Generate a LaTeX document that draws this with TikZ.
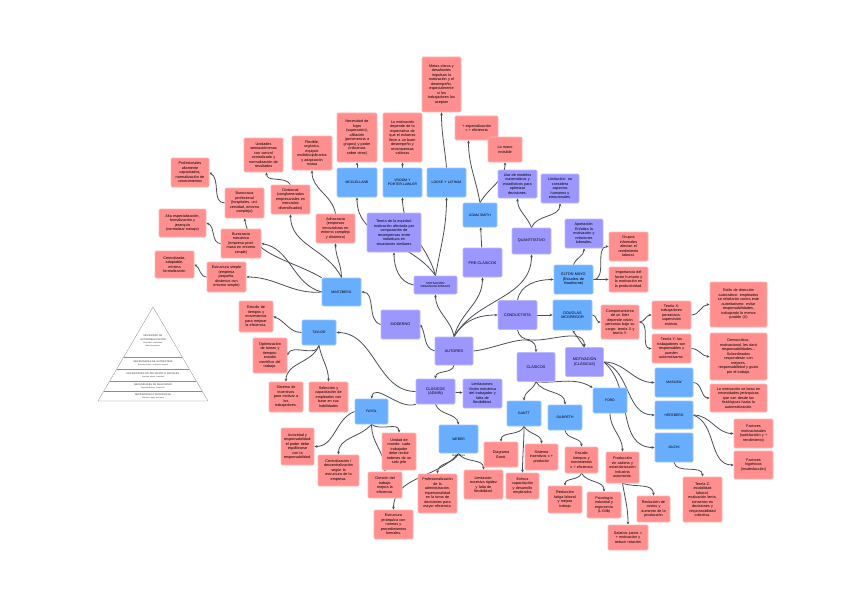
\documentclass[tikz,border=0pt]{standalone}
\usepackage{fontspec}
\setmainfont{Liberation Sans}
\usetikzlibrary{positioning,arrows.meta,backgrounds}
\definecolor{notered}{HTML}{FF8F8F}
\definecolor{noteredline}{HTML}{FFB4B4}
\definecolor{authblue}{HTML}{69ADFF}
\definecolor{authblueline}{HTML}{9CC8FF}
\definecolor{schoolpurple}{HTML}{9C97FF}
\definecolor{schoolline}{HTML}{BDB9FF}
\definecolor{linkgray}{HTML}{4A4F57}

\begin{document}
\begin{tikzpicture}[x=1pt,y=1pt,
  box/.style={rounded corners=1.2pt, line width=0.6pt, align=center, inner xsep=1.5pt, inner ysep=1pt, text width=36pt, minimum height=29pt, font=\fontsize{3.75}{4.5}\selectfont},
  redbox/.style={box, draw=noteredline, fill=notered},
  bluebox/.style={box, draw=authblueline, fill=authblue, font=\fontsize{3.4}{4.2}\selectfont},
  purplebox/.style={box, draw=schoolline, fill=schoolpurple},
  arrow/.style={-{Stealth[length=3pt,width=2.6pt]}, draw=linkgray, line width=0.8pt},
  twoway/.style={arrow, {Stealth[length=3pt,width=2.6pt]}-{Stealth[length=3pt,width=2.6pt]}},
  pyrtext/.style={inner sep=0pt, align=center, text=black!75, font=\fontsize{2.5}{2.9}\selectfont}]
\useasboundingbox (0,0) rectangle (848,-599);

% ramas principales
\node[purplebox, text width=35pt, minimum height=28pt] (autores) at (454,-351) {AUTORES};
\node[purplebox] (moderno) at (400.5,-324.5) {MODERNO};
\node[purplebox, minimum height=25pt] (clasadmin) at (435.5,-391.5) {CLÁSICOS\\(ADMIN)};
\node[purplebox, text width=35pt] (clasicos) at (536,-367) {CLÁSICOS};
\node[purplebox] (limitaciones) at (482.5,-393.5) {Limitaciones:\\Visión mecánica\\del trabajador y\\falta de\\flexibilidad.};
\node[purplebox, text width=35pt] (motclas) at (584.5,-362) {MOTIVACIÓN\\(CLÁSICAS)};
\node[purplebox, minimum height=29pt] (conductista) at (517.5,-315) {CONDUCTISTA};
\node[purplebox, minimum height=26pt] (quant) at (531.5,-241) {QUANTITATIVO};
\node[purplebox] (precl) at (482.5,-262.5) {PRE-CLÁSICOS};
\node[purplebox, text width=40pt, minimum height=18pt, font=\fontsize{2.9}{3.5}\selectfont] (motorg) at (435.5,-285) {MOTIVACIÓN\\ORGANIZACIONALES};
\node[purplebox, text width=51pt, minimum height=39pt] (equidad) at (394,-232.5) {Teoría de la equidad:\\motivación afectada por\\comparación de\\recompensas entre\\individuos en\\situaciones similares};
\node[purplebox, minimum height=28pt] (usemod) at (517.5,-184) {Use de modelos\\matemáticos y\\estadísticos para\\optimizar\\decisiones.};
\node[purplebox, text width=35pt] (limquant) at (560,-188.5) {Limitación: no\\considera\\aspectos\\humanos y\\emocionales.};
\node[purplebox, text width=35pt] (aportacion) at (584,-233.5) {Aportación:\\Enfatiza la\\motivación y\\relaciones\\laborales.};

% autores
\node[bluebox, minimum height=28pt] (mintzberg) at (341.5,-292) {MINTZBERG};
\node[bluebox, text width=31pt, minimum height=25pt] (taylor) at (319,-332.5) {TAYLOR};
\node[bluebox, text width=30pt, minimum height=25pt] (fayol) at (371.5,-411.5) {FAYOL};
\node[bluebox, minimum height=28pt] (weber) at (458.5,-439) {WEBER};
\node[inner sep=0.5pt, font=\fontsize{2.6}{3}\selectfont] (weberlbl) [below=0.6pt of weber] {Burocracia};
\node[bluebox, text width=31pt, minimum height=25pt] (gantt) at (524,-413.5) {GANTT};
\node[bluebox, text width=31pt, minimum height=25pt] (gilbreth) at (565,-417.5) {GILBRETH};
\node[bluebox, text width=31pt, minimum height=25pt] (ford) at (610,-400.5) {FORD};
\node[bluebox, text width=35pt] (maslow) at (674,-382.5) {MASLOW};
\node[bluebox, text width=35pt, minimum height=28pt] (herzberg) at (674,-415) {HERZBERG};
\node[bluebox, text width=35pt] (ouchi) at (674,-447.5) {OUCHI};
\node[bluebox, text width=37pt] (mcclelland) at (357,-182.5) {MCCLELLAND};
\node[bluebox] (vroom) at (402.5,-182.5) {VROOM Y\\PORTER-LAWLER};
\node[bluebox] (locke) at (446.5,-182.5) {LOCKE Y LATHAM};
\node[bluebox, text width=31pt, minimum height=24pt] (adamsmith) at (480,-215) {ADAM SMITH};
\node[bluebox, font=\fontsize{3.75}{4.5}\selectfont] (eltonmayo) at (573.5,-279.5) {ELTON MAYO\\(Estudios de\\Hawthorne)};
\node[bluebox, minimum height=30pt, font=\fontsize{3.75}{4.5}\selectfont] (douglas) at (572.5,-315) {DOUGLAS\\MCGREGOR};

% notas
\node[redbox, minimum height=55pt] (metas) at (441.5,-84.5) {Metas claras y\\desafiantes\\impulsan la\\motivación y el\\desempeño,\\especialmente\\si los\\trabajadores las\\aceptan};
\node[redbox, minimum height=49pt] (vroomtxt) at (402.5,-137.5) {La motivación\\depende de la\\expectativa de\\que el esfuerzo\\lleve a un buen\\desempeño y\\recompensas\\valiosas};
\node[redbox, text width=37pt, minimum height=49pt] (mccltxt) at (357,-137.5) {Necesidad de\\logro\\(superación),\\afiliación\\(pertenencia a\\grupos) y poder\\(influencia\\sobre otros)};
\node[redbox, text width=40pt, minimum height=24pt] (espec) at (476.5,-128) {+ especialización\\= + eficiencia};
\node[redbox, text width=31pt, minimum height=25pt] (mano) at (505,-149.5) {La mano\\invisible};
\node[redbox, minimum height=34pt] (unidades) at (263.5,-155) {Unidades\\semiautónomas\\con control\\centralizado y\\normalización de\\resultados};
\node[redbox, text width=37pt, minimum height=34pt] (flexible) at (312,-153) {Flexible,\\orgánica,\\equipos\\multidisciplinarios\\y adaptación\\mutua};
\node[redbox] (divisional) at (290.5,-199.5) {Divisional\\(conglomerados\\empresariales en\\mercados\\diversificados)};
\node[redbox] (adhocracia) at (335.5,-228.5) {Adhocracia\\(empresas\\innovadoras en\\entorno complejo\\y dinámico)};
\node[redbox, minimum height=30pt] (burprof) at (244.5,-203) {Burocracia\\profesional\\(hospitales, uni-\\versidad, entorno\\complejo)};
\node[redbox, text width=35pt] (profesionales) at (190,-172.5) {Profesionales\\altamente\\capacitados,\\normalización de\\conocimientos};
\node[redbox, text width=44pt, minimum height=28pt] (altaesp) at (182.5,-223) {Alta especialización,\\formalización y\\jerarquía\\(normalizar trabajo)};
\node[redbox, text width=37pt] (burmec) at (241,-243.5) {Burocracia\\mecánica\\(empresa prod.\\masa en entorno\\simple)};
\node[redbox, minimum height=27pt] (centralizada) at (174.5,-264.5) {Centralizada,\\adaptable,\\mínima\\formalización};
\node[redbox, minimum height=30pt] (estsimple) at (226.5,-277) {Estructura simple\\(empresa\\pequeña,\\dinámico con\\entorno simple)};
\node[redbox, text width=31pt, minimum height=31pt] (estudio) at (256,-316.5) {Estudio de\\tiempos y\\movimientos\\para mejorar\\la eficiencia.};
\node[redbox, text width=31pt, minimum height=35pt] (optimizacion) at (270,-355.5) {Optimización\\de tareas y\\tiempos:\\estudio\\científico del\\trabajo.};
\node[redbox, text width=31pt, minimum height=30pt] (sistema) at (286,-397) {Sistema de\\incentivos\\para motivar a\\los\\trabajadores.};
\node[redbox, minimum height=30pt] (seleccion) at (328.5,-397) {Selección y\\capacitación de\\empleados con\\base en sus\\habilidades};
\node[redbox, text width=30pt, minimum height=37pt] (autoridad) at (297.5,-446.5) {Autoridad y\\responsabilidad:\\el poder debe\\equilibrarse\\con la\\responsabilidad.};
\node[redbox, text width=38pt, minimum height=31pt] (centralizacion) at (338.5,-470.5) {Centralización /\\descentralización\\según la\\estructura de la\\empresa.};
\node[redbox, text width=31pt, minimum height=37pt] (unidadmando) at (399,-451.5) {Unidad de\\mando: cada\\trabajador\\debe recibir\\órdenes de un\\solo jefe};
\node[redbox, text width=31pt, minimum height=26pt] (division) at (385,-485) {División del\\trabajo:\\mejora la\\eficiencia.};
\node[redbox, minimum height=39pt] (profesionalizacion) at (437.5,-493.5) {Profesionalización\\de la\\administración,\\impersonalidad\\en la toma de\\decisiones para\\mayor eficiencia.};
\node[redbox] (estjerarquica) at (393.5,-524.5) {Estructura\\jerárquica con\\normas y\\procedimientos\\formales.};
\node[redbox] (limweber) at (483.5,-484.5) {Limitación:\\excesiva rigidez\\y falta de\\flexibilidad.};
\node[redbox, text width=31pt, minimum height=25pt] (diagrama) at (501,-454.5) {Diagrama\\Gantt.};
\node[redbox, text width=30pt, minimum height=26pt] (enfoca) at (522.5,-486) {Enfoca\\capacitación\\y desarrollo\\empleados};
\node[redbox, text width=30pt, minimum height=26pt] (sistinc) at (541.5,-457) {Sistema\\incentivos x +\\productiv.};
\node[redbox, text width=30pt, minimum height=26pt] (esttiempos) at (581.5,-460) {Estudio\\tiempos y\\movimientos\\x + eficiencia};
\node[redbox, text width=31pt, minimum height=27pt] (fatiga) at (565,-499.5) {Reducción\\fatiga laboral\\y mejora\\trabajo};
\node[redbox, text width=31pt, minimum height=26pt] (psicologia) at (604,-505) {Psicología\\industrial y\\ergonomía\\(L.Gilb)};
\node[redbox, text width=30pt, minimum height=31pt] (produccion) at (622.5,-467.5) {Producción\\en cadena y\\estandarización\\Industria\\automotriz.};
\node[redbox, text width=30pt, minimum height=26pt] (costos) at (653.5,-509) {Reducción de\\costos y\\aumento de la\\producción};
\node[redbox, text width=37pt, minimum height=25pt] (salarios) at (628,-537.5) {Salarios justos =\\+ motivación y\\reducir rotación};
\node[redbox, text width=54pt, minimum height=28pt] (maslowtxt) at (738.5,-398) {La motivación se basa en\\necesidades jerárquicas\\que van desde las\\fisiológicas hasta la\\autorrealización.};
\node[redbox] (factmot) at (753.5,-433.5) {Factores\\motivacionales\\(satisfacción y +\\rendimiento)};
\node[redbox, minimum height=28pt] (facthig) at (753.5,-465) {Factores\\higiénicos\\(insatisfacción)};
\node[redbox, minimum height=45pt] (teoriaz) at (702.5,-499.5) {Teoría Z:\\estabilidad\\laboral,\\evaluación lenta,\\consenso en\\decisiones y\\responsabilidad\\colectiva.};
\node[redbox] (grupos) at (628.5,-246.5) {Grupos\\informales\\afectan el\\rendimiento\\laboral.};
\node[redbox, minimum height=25pt] (importancia) at (628.5,-279.5) {Importancia del\\factor humano y\\la motivación en\\la productividad.};
\node[redbox, text width=35pt, minimum height=34pt] (comportamiento) at (620,-322) {Comportamiento\\de un líder\\depende visión\\personas bajo su\\cargo: teoría X y\\teoría Y.};
\node[redbox, minimum height=28pt] (teoriax) at (671.5,-315) {Teoría X:\\trabajadores\\perezosos:\\supervisión\\estricta.};
\node[redbox] (teoriay) at (671.5,-348.5) {Teoría Y: los\\trabajadores son\\responsables y\\pueden\\automotivarse.};
\node[redbox, text width=54pt, minimum height=45pt] (autocratico) at (738.5,-304.5) {Estilo de dirección\\autocrático: empleados\\se rebelarán contra este\\autoritarismo: evitar\\responsabilidades,\\trabajando lo menos\\posible (X)};
\node[redbox, text width=54pt, minimum height=47pt] (democratico) at (738.5,-356.5) {Democrático,\\motivacional, les dará\\responsabilidades...\\Subordinados\\responderán con\\mejores,\\responsabilidad y gusto\\por el trabajo.};

% piramide de Maslow
\draw[black!45, line width=0.3pt] (153,-307) -- (98,-401) -- (208,-401) -- cycle;
\draw[black!45, line width=0.3pt] (123.7,-357) -- (182.3,-357);
\draw[black!45, line width=0.3pt] (116.7,-369) -- (189.3,-369);
\draw[black!45, line width=0.3pt] (109.7,-381) -- (196.3,-381);
\draw[black!45, line width=0.3pt] (103.9,-391) -- (202.1,-391);
\node[pyrtext] (pyr1) at (153,-341) {NECESIDAD DE\\[0.8pt]AUTORREALIZACIÓN\\{\fontsize{1.9}{2.3}\selectfont Moralidad, creatividad,}\\{\fontsize{1.9}{2.3}\selectfont falta de prejuicios}};
\node[pyrtext] (pyr2) at (153,-363.2) {NECESIDADES DE AUTOESTIMA\\{\fontsize{1.9}{2.3}\selectfont Reconocimiento, confianza, respeto}};
\node[pyrtext] (pyr3) at (153,-375.2) {NECESIDADES DE AFILIACIÓN O SOCIALES\\{\fontsize{1.9}{2.3}\selectfont Amistad, afecto, intimidad}};
\node[pyrtext] (pyr4) at (153,-386.2) {NECESIDADES DE SEGURIDAD\\{\fontsize{1.9}{2.3}\selectfont Seguridad física, Protección}};
\node[pyrtext] (pyr5) at (153,-396.2) {NECESIDADES FISIOLÓGICAS\\{\fontsize{1.9}{2.3}\selectfont Alimento, agua, descanso}};

\begin{scope}[on background layer]
\fill[white] (0,0) rectangle (848,-599);
% Mintzberg
\draw[arrow] (moderno.west) to[out=165,in=0] (mintzberg.east);
\draw[arrow] (mintzberg.west) to[out=185,in=0] (estsimple.east);
\draw[arrow] (mintzberg.west) to[out=165,in=-10] (burmec.east);
\draw[arrow] (mintzberg.north west) to[out=150,in=-80] (burprof.south);
\draw[arrow] (mintzberg.north) to[out=115,in=-90] (divisional.south);
\draw[arrow] (mintzberg.north) to[out=90,in=-90] (adhocracia.south);
\draw[arrow] (burprof.west) to[out=180,in=-30] (profesionales.east);
\draw[arrow] (burmec.west) to[out=180,in=-20] (altaesp.east);
\draw[arrow] (estsimple.west) to[out=180,in=-30] (centralizada.east);
\draw[arrow] (divisional.north) to[out=120,in=-90] ([xshift=3pt]unidades.south);
\draw[arrow] (adhocracia.north) to[out=100,in=-90] (flexible.south);
% Autores
\draw[arrow] (autores.west) to[out=165,in=-60] (moderno.east);
\draw[arrow] (autores.north) to[out=100,in=-90] (motorg.south);
\draw[arrow] (autores.north) to[out=75,in=-90] (precl.south);
\draw[arrow] (autores.north) to[out=60,in=-90] (quant.south);
\draw[arrow] (autores.north) to[out=60,in=180] (conductista.west);
\draw[arrow] (autores.south) to[out=-100,in=90] (clasadmin.north);
\draw[arrow] (autores.east) to[out=5,in=90] (clasicos.north);
% Motivación organizacional
\draw[arrow] (motorg.west) to[out=170,in=-90] (equidad.south);
\draw[arrow] (motorg.north) to[out=125,in=-90] (mcclelland.south);
\draw[arrow] (motorg.north) to[out=105,in=-90] (vroom.south);
\draw[arrow] (motorg.north) to[out=80,in=-90] (locke.south);
\draw[arrow] (mcclelland) -- (mccltxt);
\draw[arrow] (vroom) -- (vroomtxt);
\draw[arrow] (locke.north) to[out=95,in=-90] (metas.south);
\draw[arrow] (precl) -- (adamsmith);
\draw[arrow] (adamsmith.north) to[out=100,in=-90] ([xshift=-8pt]espec.south);
\draw[arrow] (adamsmith.north) to[out=60,in=-90] (mano.south);
\draw[arrow] (quant.north) to[out=110,in=-90] (usemod.south);
\draw[arrow] (quant.north) to[out=70,in=-90] (limquant.south);
% Conductista
\draw[arrow] (conductista.north) to[out=80,in=180] (eltonmayo.west);
\draw[arrow] (conductista) -- (douglas);
\draw[arrow] (conductista.south) to[out=-80,in=90] (motclas.north);
\draw[twoway] (douglas.south) -- (motclas.north);
\draw[arrow] (eltonmayo.north) to[out=70,in=-90] (aportacion.south);
\draw[arrow] (eltonmayo.east) to[out=0,in=180] (grupos.west);
\draw[arrow] (eltonmayo) -- (importancia);
\draw[arrow] (douglas.east) to[out=0,in=180] (comportamiento.west);
\draw[arrow] (comportamiento.east) to[out=0,in=180] (teoriax.west);
\draw[arrow] (comportamiento.east) to[out=0,in=180] (teoriay.west);
\draw[arrow] (teoriax.east) to[out=0,in=180] (autocratico.west);
\draw[arrow] (teoriay.east) to[out=0,in=180] (democratico.west);
% Clásicos (admin)
\draw[arrow] (clasadmin.west) to[out=180,in=0] (taylor.east);
\draw[arrow] (clasadmin.south west) to[out=200,in=80] (fayol.north);
\draw[arrow] (clasadmin.south) to[out=-70,in=100] (weber.north);
\draw[arrow] (clasadmin) -- (limitaciones);
\draw[arrow] (taylor.west) to[out=180,in=-20] (estudio.east);
\draw[arrow] (taylor.south) to[out=-100,in=70] (optimizacion.east);
\draw[arrow] (taylor.south) to[out=-110,in=90] (sistema.north);
\draw[arrow] (taylor.south) to[out=-80,in=90] (seleccion.north);
\draw[arrow] (fayol.west) to[out=200,in=0] (autoridad.east);
\draw[arrow] (fayol.south) to[out=-130,in=90] (centralizacion.north);
\draw[arrow] (fayol.south) to[out=-90,in=90] (division.north);
\draw[arrow] (fayol.south) to[out=-40,in=90] (unidadmando.north);
\draw[arrow] (weber.south) to[out=-110,in=90] (profesionalizacion.north);
\draw[arrow] (weber.south) to[out=-130,in=90] (estjerarquica.north);
\draw[arrow] (weber.south) to[out=-60,in=90] (limweber.north);
% Clásicos
\draw[arrow] (clasicos.south) to[out=-110,in=90] (gantt.north);
\draw[arrow] (clasicos.south) to[out=-60,in=90] (gilbreth.north);
\draw[arrow] (clasicos.south) to[out=-5,in=150] (ford.north west);
\draw[arrow] (gantt.south) to[out=-110,in=90] (diagrama.north);
\draw[arrow] (gantt.south) to[out=-90,in=90] (enfoca.north);
\draw[arrow] (gantt.south) to[out=-60,in=90] (sistinc.north);
\draw[arrow] (gilbreth.south) to[out=-80,in=90] (esttiempos.north);
\draw[arrow] (esttiempos.south) to[out=-110,in=90] (fatiga.north);
\draw[arrow] (esttiempos.south) to[out=-60,in=90] (psicologia.north);
\draw[arrow] (ford.south) to[out=-90,in=90] (produccion.north);
\draw[arrow] (produccion.south) to[out=-80,in=90] (salarios.north);
\draw[arrow] (produccion.south) to[out=-20,in=90] (costos.north);
% Motivación clásicas
\draw[arrow] (motclas.east) to[out=0,in=180] (maslow.west);
\draw[arrow] (motclas.east) to[out=-20,in=180] (herzberg.west);
\draw[arrow] (motclas.east) to[out=-40,in=180] (ouchi.west);
\draw[arrow] (maslow.east) to[out=0,in=180] (maslowtxt.west);
\draw[arrow] (herzberg.east) to[out=0,in=180] (factmot.west);
\draw[arrow] (herzberg.east) to[out=-20,in=180] (facthig.west);
\draw[arrow] (ouchi.south) to[out=-80,in=90] (teoriaz.north);
\end{scope}
\end{tikzpicture}
\end{document}
